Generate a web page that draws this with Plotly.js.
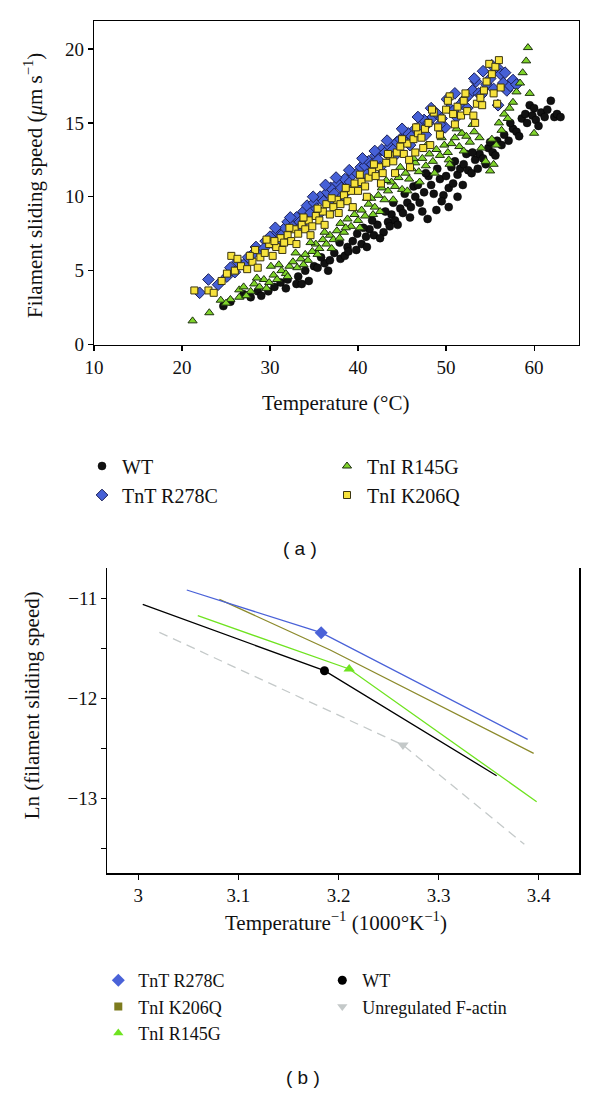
<!DOCTYPE html>
<html>
<head>
<meta charset="utf-8">
<script src="https://cdn.plot.ly/plotly-3.0.1.min.js"></script>
<style>html,body{margin:0;padding:0;background:#fff;}#chart{width:600px;height:1094px;}</style>
</head>
<body>
<div id="chart"></div>
<script>
// ---------- Panel (a): filament sliding speed vs temperature ----------
const wtTemp = [24.7,25.5,27.0,27.8,28.6,29.8,30.5,31.2,32.0,33.0,33.6,34.4,34.0,35.0,35.4,36.2,36.8,37.3,38.0,38.5,38.8,39.4,39.8,40.4,40.9,41.3,41.8,42.2,42.9,43.4,43.8,44.2,44.0,44.8,45.1,45.6,46.0,46.3,46.5,47.0,47.5,47.9,48.0,48.3,48.9,49.3,49.7,50.3,50.3,50.8,51.3,51.3,51.6,52.0,52.5,52.9,53.3,53.8,54.2,54.8,55.3,55.8,56.3,57.1,57.6,58.0,58.6,59.0,59.5,59.8,60.2,60.5,60.8,61.2,61.5,61.9,62.3,62.6,63.0,
  29.0,31.8,33.2,35.8,36.6,37.9,38.9,39.9,40.6,41.0,41.6,42.5,43.1,43.6,44.5,45.3,45.9,46.8,47.3,47.7,48.6,49.0,49.5,50.0,50.6,51.0,51.9,52.3,53.0,53.6,54.5,55.0,55.6,56.6,57.3,58.3,59.2,60.0];
const wtSpeed = [2.6,2.9,3.4,3.2,3.6,3.6,3.9,4.2,4.4,4.1,4.1,4.3,5.0,5.3,5.2,5.5,5.7,6.2,5.8,6.0,6.6,7.0,6.4,6.8,7.3,7.8,7.4,8.1,7.6,8.3,8.8,8.4,9.6,9.2,8.9,9.6,9.3,10.7,10.0,9.6,10.3,8.5,11.4,10.8,9.1,11.2,10.1,9.3,10.6,10.9,10.0,11.5,11.9,12.2,11.8,11.6,12.5,12.9,12.6,13.3,13.0,13.8,13.5,13.8,14.6,14.4,15.3,15.6,16.2,15.5,15.2,14.8,15.7,15.4,15.9,16.5,15.4,15.6,15.4,
  3.3,3.8,4.6,5.9,5.0,6.9,6.3,7.5,7.9,6.6,8.4,7.2,9.0,8.0,8.1,10.2,8.6,10.8,9.0,11.6,10.2,11.9,9.7,11.4,12.0,12.4,10.8,12.9,13.0,11.9,12.2,13.7,12.8,14.2,15.0,14.1,15.0,16.0];

const tntTemp = [22.0,24.1,25.1,25.5,26.3,27.0,27.5,28.4,29.0,29.5,30.0,30.4,30.8,31.3,31.7,32.0,32.5,33.0,33.4,33.8,34.2,34.6,35.0,35.3,35.7,36.1,36.5,36.9,37.3,37.7,38.1,38.5,39.1,39.4,39.9,40.3,40.8,41.2,41.6,42.0,42.3,42.7,43.1,43.6,44.0,44.4,44.8,45.2,45.7,46.1,46.5,47.0,47.5,48.0,48.5,49.0,49.5,49.9,50.4,50.8,51.2,51.7,52.1,52.6,53.0,53.4,53.7,54.2,54.6,55.0,55.4,55.9,55.9,56.2,56.5,56.9,57.3,57.6,58.0,
  23.0,26.0,28.0,29.3,30.6,31.5,32.3,33.2,34.0,34.9,35.5,36.3,37.0,37.5,38.3,39.0,39.7,40.5,41.0,41.9,42.5,43.3,44.2,45.0,45.9,46.8,47.7,48.3,49.3,50.1,51.0,52.4,53.2,54.0,55.2,56.7];
const tntSpeed = [3.5,4.05,4.6,5.2,5.6,5.4,5.9,6.6,6.2,7.0,7.3,6.8,7.6,7.4,7.9,8.3,8.0,8.6,8.3,9.0,9.4,8.9,9.6,9.2,10.0,9.7,10.3,10.6,10.2,10.9,10.6,11.2,11.0,11.5,11.6,12.0,12.1,12.4,12.2,12.8,12.5,13.2,13.0,13.4,13.2,13.7,13.9,14.0,14.3,14.1,14.6,14.8,15.2,15.0,15.4,15.6,15.3,14.7,16.0,15.8,15.4,16.3,16.6,16.9,17.2,17.8,17.0,18.5,17.6,18.0,17.3,18.7,16.2,18.3,17.7,17.2,17.5,17.9,17.6,
  4.4,4.9,6.1,6.5,7.9,6.9,8.6,7.8,8.4,10.0,8.8,10.8,9.6,11.3,10.1,11.8,10.7,12.6,11.5,13.1,12.0,13.8,12.8,14.6,13.5,15.4,14.2,16.0,14.9,16.6,17.0,16.0,18.0,16.9,18.9,18.4];

const r145gTemp = [21.2,23.1,24.4,25.5,26.5,26.5,27.0,27.8,28.2,28.8,29.3,29.9,30.4,30.8,31.3,31.8,32.2,32.6,33.1,33.5,34.0,34.3,34.8,35.2,35.6,36.0,36.4,36.8,37.2,37.6,38.0,38.4,38.8,39.2,39.6,40.0,40.4,40.8,41.2,41.5,41.9,42.3,42.7,43.0,43.4,43.8,44.2,44.6,45.0,45.4,45.8,46.1,46.5,46.9,47.3,47.7,48.1,48.5,48.9,49.3,49.8,50.2,50.3,50.6,51.0,51.5,51.8,52.3,52.7,53.2,53.8,54.5,55.0,55.4,55.7,56.3,56.6,57.2,57.6,58.0,58.4,58.7,59.1,59.3,59.5,60.0,
  25.0,27.3,28.5,29.6,30.1,31.0,32.0,32.9,33.8,34.6,35.4,36.2,37.0,37.9,38.6,39.4,40.2,41.0,41.7,42.5,43.2,44.0,44.8,45.6,46.3,47.0,47.8,48.7,49.5,50.4,51.2,52.0,53.0,54.0,55.2,56.0,57.0];
const r145gSpeed = [1.6,2.15,3.0,3.05,3.2,3.7,3.9,3.6,4.1,3.9,4.4,4.2,4.7,4.4,5.0,4.8,5.3,5.6,5.2,5.8,6.1,5.7,6.3,6.8,6.5,7.1,6.8,7.4,7.1,7.7,8.2,7.6,8.5,8.0,8.8,8.4,9.1,8.7,9.5,9.9,9.3,10.1,10.6,9.8,10.4,11.0,10.7,11.3,10.5,11.6,11.2,11.9,12.3,11.7,12.6,12.1,12.9,12.4,13.2,12.8,13.5,13.0,12.5,13.6,14.0,13.4,14.3,14.1,13.7,14.4,14.0,12.4,11.75,12.2,13.5,14.5,15.6,16.0,16.4,17.1,17.7,18.4,19.2,20.1,17.0,14.3,
  2.8,3.3,4.5,3.8,5.3,5.4,4.6,6.2,5.4,6.9,6.1,7.6,6.5,7.2,7.9,9.2,7.9,9.9,8.8,9.0,11.1,9.8,12.0,10.4,12.6,11.0,13.5,11.6,14.0,12.2,14.6,13.1,14.9,13.3,13.9,15.0,15.3];

const k206qTemp = [21.4,23.0,23.6,25.1,25.6,26.0,26.7,27.4,28.0,28.3,28.9,29.4,29.9,30.3,30.7,31.2,31.6,32.0,32.4,32.8,33.2,33.6,34.0,34.4,34.8,35.2,35.6,36.0,36.4,36.8,37.2,37.6,38.0,38.4,38.8,39.2,39.6,40.0,40.4,40.8,41.2,41.6,42.0,42.4,42.8,43.2,43.6,44.0,44.4,44.8,45.2,45.6,45.9,46.3,46.5,46.8,47.2,47.6,48.0,48.2,48.6,49.1,49.5,50.0,50.4,50.8,51.3,51.7,52.0,52.4,53.1,53.5,53.9,54.3,54.6,54.9,55.2,55.6,55.8,56.0,56.2,
  24.5,26.3,27.7,28.6,29.6,30.5,31.4,32.2,33.0,33.8,34.6,35.4,36.2,37.0,37.8,38.6,39.4,40.2,41.0,41.8,42.6,43.4,44.2,45.0,45.8,46.6,47.4,48.4,49.3,50.2,51.0,52.2,53.3,54.1,55.4];
const k206qSpeed = [3.66,3.66,3.5,4.8,6.0,5.0,5.3,5.1,5.6,6.4,5.9,6.2,6.8,6.0,6.6,7.2,6.9,7.4,7.0,7.8,7.5,8.1,7.8,8.4,8.0,8.7,8.4,9.0,9.5,8.8,9.3,9.8,9.5,10.1,9.7,10.4,10.9,10.4,11.0,10.7,11.3,11.7,11.4,12.0,11.6,12.3,12.8,12.4,13.0,13.4,12.9,13.6,12.0,13.9,13.0,14.3,14.0,14.6,15.0,13.5,15.7,14.7,15.3,15.9,16.8,15.6,16.1,15.5,16.5,15.8,15.5,16.3,16.7,17.2,17.8,19.0,18.3,18.8,16.3,19.25,17.4,
  4.3,5.8,6.0,5.2,7.1,7.0,6.4,7.9,6.8,8.6,7.4,9.2,8.1,9.9,8.9,10.6,9.3,11.5,10.0,12.2,10.9,12.9,11.6,13.9,12.5,14.7,13.3,15.9,14.2,16.5,14.9,17.0,15.0,16.2,17.0];

// ---------- Panel (b): Arrhenius plot ----------
const invTemp_TnT = [3.0484, 3.1827, 3.389];
const lnSpeed_TnT = [-10.917, -11.344, -12.41];
const invTemp_K206Q = [3.081, 3.1917, 3.395];
const lnSpeed_K206Q = [-11.01, -11.517, -12.55];
const invTemp_R145G = [3.0594, 3.2107, 3.398];
const lnSpeed_R145G = [-11.174, -11.707, -13.034];
const invTemp_WT = [3.0044, 3.186, 3.358];
const lnSpeed_WT = [-11.06, -11.724, -12.774];
const invTemp_Actin = [3.021, 3.2644, 3.3857];
const lnSpeed_Actin = [-11.34, -12.467, -13.46];

const ticksA_x = [10, 20, 30, 40, 50, 60];
const ticksA_y = [0, 5, 10, 15, 20];
const ticksB_x = [3, 3.1, 3.2, 3.3, 3.4];
const ticksB_y = [-11, -12, -13];

const SERIF = 'Liberation Serif, Times New Roman, serif';
const SANS = 'Liberation Sans, Arial, sans-serif';
const W = 600, H = 1094;
const px = v => v / W;
const py = v => 1 - v / H;

const BLUE = '#4660d6', YELLOW = '#f7e23c', GREEN = '#7fd42a', BLACK = '#111111';
const LBLUE = '#4a62d8', LOLIVE = '#8c8a2c', LGREEN = '#6fe320', LGRAY = '#c4c9c9';

const traces = [
  {x: wtTemp, y: wtSpeed, name: 'WT', type: 'scatter', mode: 'markers', legend: 'legend', legendrank: 1,
   marker: {symbol: 'circle', size: 8, color: BLACK, line: {color: '#000', width: 0.5}}, xaxis: 'x', yaxis: 'y'},
  {x: tntTemp, y: tntSpeed, name: 'TnT R278C', type: 'scatter', mode: 'markers', legend: 'legend', legendrank: 3,
   marker: {symbol: 'diamond', size: 9, color: BLUE, line: {color: '#1a1f55', width: 1}}, xaxis: 'x', yaxis: 'y'},
  {x: r145gTemp, y: r145gSpeed, name: 'TnI R145G', type: 'scatter', mode: 'markers', legend: 'legend', legendrank: 2,
   marker: {symbol: 'triangle-up', size: 8, color: GREEN, line: {color: '#1e3010', width: 1}}, xaxis: 'x', yaxis: 'y'},
  {x: k206qTemp, y: k206qSpeed, name: 'TnI K206Q', type: 'scatter', mode: 'markers', legend: 'legend', legendrank: 4,
   marker: {symbol: 'square', size: 7, color: YELLOW, line: {color: '#3a3410', width: 1}}, xaxis: 'x', yaxis: 'y'},

  // panel b lines
  {x: invTemp_K206Q, y: lnSpeed_K206Q, type: 'scatter', mode: 'lines', showlegend: false,
   line: {color: LOLIVE, width: 1.3}, xaxis: 'x2', yaxis: 'y2'},
  {x: invTemp_TnT, y: lnSpeed_TnT, type: 'scatter', mode: 'lines+markers', showlegend: false,
   line: {color: LBLUE, width: 1.3}, marker: {symbol: 'diamond', size: 10, color: LBLUE, opacity: [0, 1, 0]}, xaxis: 'x2', yaxis: 'y2'},
  {x: invTemp_Actin, y: lnSpeed_Actin, type: 'scatter', mode: 'lines+markers', showlegend: false,
   line: {color: LGRAY, width: 1.3, dash: '9px,6px'}, marker: {symbol: 'triangle-down', size: 10, color: LGRAY, opacity: [0, 1, 0]}, xaxis: 'x2', yaxis: 'y2'},
  {x: invTemp_WT, y: lnSpeed_WT, type: 'scatter', mode: 'lines+markers', showlegend: false,
   line: {color: '#000', width: 1.3}, marker: {symbol: 'circle', size: 9, color: '#000', opacity: [0, 1, 0]}, xaxis: 'x2', yaxis: 'y2'},
  {x: invTemp_R145G, y: lnSpeed_R145G, type: 'scatter', mode: 'lines+markers', showlegend: false,
   line: {color: LGREEN, width: 1.3}, marker: {symbol: 'triangle-up', size: 10, color: LGREEN, opacity: [0, 1, 0]}, xaxis: 'x2', yaxis: 'y2'},

  // panel b legend swatches (marker-only entries)
  {x: [null], y: [null], name: 'TnT R278C', type: 'scatter', mode: 'markers', legend: 'legend2', legendrank: 1,
   marker: {symbol: 'diamond', size: 10, color: LBLUE}, xaxis: 'x2', yaxis: 'y2'},
  {x: [null], y: [null], name: 'WT', type: 'scatter', mode: 'markers', legend: 'legend2', legendrank: 2,
   marker: {symbol: 'circle', size: 9, color: '#000'}, xaxis: 'x2', yaxis: 'y2'},
  {x: [null], y: [null], name: 'TnI K206Q', type: 'scatter', mode: 'markers', legend: 'legend2', legendrank: 3,
   marker: {symbol: 'square', size: 8, color: '#7d7b1e'}, xaxis: 'x2', yaxis: 'y2'},
  {x: [null], y: [null], name: 'Unregulated F-actin', type: 'scatter', mode: 'markers', legend: 'legend2', legendrank: 4,
   marker: {symbol: 'triangle-down', size: 9, color: LGRAY}, xaxis: 'x2', yaxis: 'y2'},
  {x: [null], y: [null], name: 'TnI R145G', type: 'scatter', mode: 'markers', legend: 'legend2', legendrank: 5,
   marker: {symbol: 'triangle-up', size: 9, color: LGREEN}, xaxis: 'x2', yaxis: 'y2'}
];

const axisCommon = {
  showgrid: false, zeroline: false, showline: true, linecolor: '#000', linewidth: 1.2,
  ticks: 'outside', ticklen: 5, tickwidth: 1.2, tickcolor: '#000',
  tickfont: {family: SERIF, size: 19, color: '#111'}
};

const layout = {
  width: W, height: H,
  margin: {l: 0, r: 0, t: 0, b: 0},
  paper_bgcolor: '#fff', plot_bgcolor: '#fff',
  font: {family: SERIF, color: '#111'},
  xaxis: Object.assign({}, axisCommon, {
    domain: [px(94), px(579)], range: [10, 65.1], tickvals: ticksA_x, ticktext: ticksA_x.map(String),
    mirror: true, anchor: 'y'
  }),
  yaxis: Object.assign({}, axisCommon, {
    domain: [py(344.5), py(21)], range: [0, 21.9], tickvals: ticksA_y, ticktext: ticksA_y.map(String),
    mirror: true, anchor: 'x'
  }),
  xaxis2: Object.assign({}, axisCommon, {
    domain: [px(107.3), px(579.3)], range: [2.969, 3.4406], tickvals: ticksB_x, ticktext: ticksB_x.map(String),
    mirror: false, anchor: 'y2'
  }),
  yaxis2: Object.assign({}, axisCommon, {
    domain: [py(873.3), py(568.3)], range: [-13.75, -10.7], tickvals: ticksB_y,
    mirror: true, anchor: 'x2',
    minor: {tickvals: [-11.5, -12.5, -13.5], ticks: 'outside', ticklen: 5, tickwidth: 1.2, tickcolor: '#000'}
  }),
  legend: {
    orientation: 'h', x: px(82), xanchor: 'left', y: py(446.5), yanchor: 'top',
    entrywidth: 200, entrywidthmode: 'pixels', bgcolor: 'rgba(0,0,0,0)', borderwidth: 0,
    font: {family: SERIF, size: 20, color: '#111'}, traceorder: 'normal'
  },
  legend2: {
    orientation: 'h', x: px(98.3), xanchor: 'left', y: py(962), yanchor: 'top',
    entrywidth: 179, entrywidthmode: 'pixels', bgcolor: 'rgba(0,0,0,0)', borderwidth: 0,
    font: {family: SERIF, size: 18, color: '#111'}, traceorder: 'normal'
  },
  annotations: [
    {text: 'Filament sliding speed (<i>μ</i>m s<sup>−1</sup>)', x: px(33), y: py(186), xref: 'paper', yref: 'paper',
     textangle: -90, showarrow: false, xanchor: 'center', yanchor: 'middle', font: {family: SERIF, size: 21, color: '#111'}},
    {text: 'Temperature (°C)', x: px(335.6), y: py(403), xref: 'paper', yref: 'paper',
     showarrow: false, xanchor: 'center', yanchor: 'middle', font: {family: SERIF, size: 21, color: '#111'}},
    {text: '( a )', x: px(300), y: py(548), xref: 'paper', yref: 'paper',
     showarrow: false, xanchor: 'center', yanchor: 'middle', font: {family: SANS, size: 19, color: '#111'}},
    {text: 'Ln (filament sliding speed)', x: px(32.3), y: py(705), xref: 'paper', yref: 'paper',
     textangle: -90, showarrow: false, xanchor: 'center', yanchor: 'middle', font: {family: SERIF, size: 21, color: '#111'}},
    {text: 'Temperature<sup>−1</sup> (1000°K<sup>−1</sup>)', x: px(336), y: py(921.7), xref: 'paper', yref: 'paper',
     showarrow: false, xanchor: 'center', yanchor: 'middle', font: {family: SERIF, size: 21, color: '#111'}},
    {text: '( b )', x: px(303), y: py(1077), xref: 'paper', yref: 'paper',
     showarrow: false, xanchor: 'center', yanchor: 'middle', font: {family: SANS, size: 19, color: '#111'}}
  ]
};

Plotly.newPlot('chart', traces, layout, {staticPlot: true, displayModeBar: false});
</script>
</body>
</html>
